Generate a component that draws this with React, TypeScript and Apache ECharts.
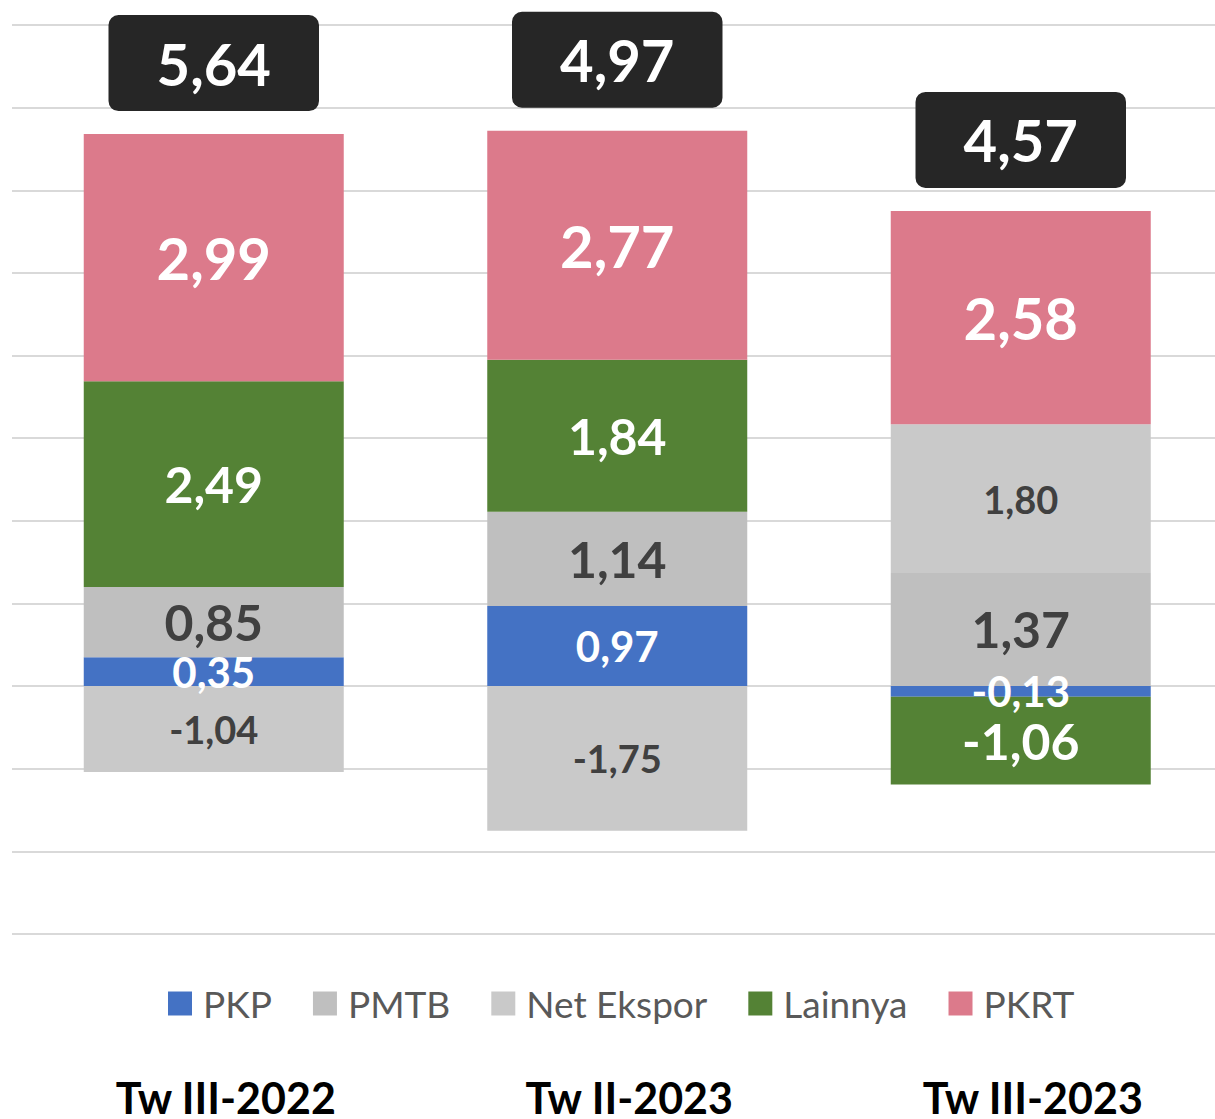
import React, { useEffect, useRef } from "react";
import * as echarts from "echarts";

const categories = ["Tw III-2022", "Tw II-2023", "Tw III-2023"];
const pkp = [0.35, 0.97, -0.13];
const pmtb = [0.85, 1.14, 1.37];
const netEkspor = [-1.04, -1.75, 1.8];
const lainnya = [2.49, 1.84, -1.06];
const pkrt = [2.99, 2.77, 2.58];
const totals = [5.64, 4.97, 4.57];
const legendNames = ["PKP", "PMTB", "Net Ekspor", "Lainnya", "PKRT"];

const fmt = (v: number) => v.toFixed(2).replace(".", ",");
const FONT = "Lato, 'Noto Sans', sans-serif";

export default function App() {
  const ref = useRef<HTMLDivElement>(null);
  useEffect(() => {
    if (!ref.current) return;
    const chart = echarts.init(ref.current, null, { renderer: "svg" });
    const seriesDefs = [
      { name: "PKP", data: pkp, color: "#4472C4", labelColor: "#ffffff", size: 42 },
      { name: "PMTB", data: pmtb, color: "#BFBFBF", labelColor: "#404040", size: 50 },
      { name: "Net Ekspor", data: netEkspor, color: "#C9C9C9", labelColor: "#404040", size: 38 },
      { name: "Lainnya", data: lainnya, color: "#548235", labelColor: "#ffffff", size: 50 },
      { name: "PKRT", data: pkrt, color: "#DC7A8B", labelColor: "#ffffff", size: 58 },
    ];
    const all = [pkp, pmtb, netEkspor, lainnya, pkrt];
    const posTop = categories.map((_, i) =>
      all.reduce((s, arr) => s + Math.max(0, arr[i]), 0)
    );
    const barSeries = seriesDefs.map((d) => ({
      name: d.name,
      type: "bar",
      stack: "total",
      barWidth: 260,
      data: d.data,
      itemStyle: { color: d.color },
      label: {
        show: true,
        position: "inside",
        formatter: (p: any) => fmt(p.value),
        color: d.labelColor,
        fontSize: d.size,
        fontWeight: "bold",
        fontFamily: FONT,
      },
    }));
    chart.setOption({
      animation: false,
      grid: { left: 12, right: 2.5, top: 25, bottom: 185, containLabel: false },
      legend: {
        data: legendNames,
        left: 163,
        top: 980,
        itemWidth: 24,
        itemHeight: 24,
        itemGap: 41,
        icon: "rect",
        textStyle: { fontSize: 37, color: "#595959", fontFamily: FONT, padding: [0, 0, 0, 6] },
      },
      xAxis: {
        type: "category",
        data: categories,
        axisLine: { show: false },
        axisTick: { show: false },
        axisLabel: {
          margin: 142,
          fontSize: 43,
          fontWeight: "bold",
          color: "#000000",
          fontFamily: FONT,
          lineHeight: 43,
          padding: [0, 0, 0, 24],
        },
      },
      yAxis: {
        type: "value",
        min: -3,
        max: 8,
        interval: 1,
        axisLabel: { show: false },
        axisLine: { show: false },
        axisTick: { show: false },
        splitLine: { lineStyle: { color: "#d9d9d9", width: 2 } },
      },
      series: [
        ...barSeries,
        {
          name: "Total",
          type: "scatter",
          symbolSize: 0,
          data: posTop,
          z: 10,
          itemStyle: { opacity: 1 },
          label: {
            show: true,
            position: "top",
            distance: 23,
            formatter: (p: any) => fmt(totals[p.dataIndex]),
            color: "#ffffff",
            opacity: 1,
            fontSize: 58,
            fontWeight: "bold",
            fontFamily: FONT,
            lineHeight: 58,
            backgroundColor: "#262626",
            borderRadius: 10,
            padding: [19, 48, 19, 48],
          },
        },
      ],
    });
    return () => chart.dispose();
  }, []);
  return (
    <div
      ref={ref}
      style={{ position: "fixed", left: 0, top: 0, width: 1225, height: 1119, background: "#fff" }}
    />
  );
}
